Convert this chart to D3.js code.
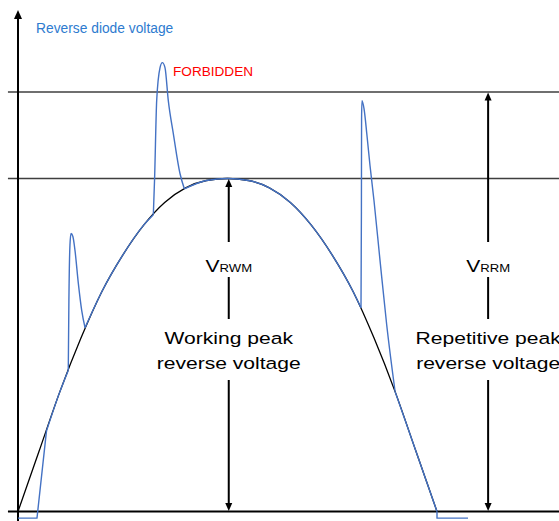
<!DOCTYPE html>
<html>
<head>
<meta charset="utf-8">
<script src="https://cdn.jsdelivr.net/npm/d3@7"></script>
<style>
  html, body { margin: 0; padding: 0; background: #fff; }
  svg { display: block; }
  text { font-family: "Liberation Sans", Arial, sans-serif; }
</style>
</head>
<body>
<svg id="chart" width="559" height="521"></svg>
<script>
// ---- data (time in ms, voltage in % of V_RWM) ----
const blackT = [0, 0.5, 1.0, 1.5, 2.0, 2.5, 3.0, 3.5, 4.0, 4.5, 5.0, 5.5, 6.0, 6.5, 7.0, 7.5, 8.0, 8.5, 9.0, 9.5, 10];
const blackV = [0, 18, 36, 52, 66, 77, 86, 92.8, 97.2, 99.4, 100, 99.4, 97.2, 92.8, 86, 77, 66, 52, 36, 18, 0];

// blue waveform, split into pieces (0 = clamped start, 1..7 = sections, 8 = clamped end)
const bluePiece = [0, 0, 0,
                   1, 1, 1,
                   2, 2, 2, 2, 2, 2, 2, 2, 2,
                   3, 3, 3, 3, 3,
                   4, 4, 4, 4, 4, 4, 4, 4, 4, 4,
                   5, 5, 5, 5, 5, 5, 5, 5, 5, 5,
                   6, 6, 6, 6, 6, 6, 6, 6, 6, 6, 6,
                   7, 7, 7,
                   8, 8, 8];
const blueT = [0, 0.453, 0.68,
               0.68, 1.0, 1.2,
               1.2, 1.215, 1.24, 1.265, 1.31, 1.36, 1.44, 1.52, 1.6,
               1.6, 2.0, 2.5, 3.0, 3.23,
               3.23, 3.26, 3.31, 3.39, 3.445, 3.508, 3.587, 3.707, 3.866, 3.97,
               3.97, 4.5, 5.0, 5.5, 6.0, 6.5, 7.0, 7.5, 8.0, 8.186,
               8.186, 8.196, 8.2, 8.21, 8.258, 8.329, 8.401, 8.496, 8.64, 8.8, 9.0,
               9.0, 9.5, 10,
               10, 10, 10.74];
const blueV = [-2, -2, 24.2,
               24.2, 36, 42.4,
               42.4, 63.5, 80, 83.5, 82.6, 78.4, 68.5, 60.4, 55.2,
               55.2, 66, 77, 86, 89.1,
               89.1, 100, 123.4, 133.3, 134.8, 133.3, 123.4, 113.5, 101.5, 96.9,
               96.9, 99.4, 100, 99.4, 97.2, 92.8, 86, 77, 66, 61.2,
               61.2, 90, 118, 123.4, 121, 112.9, 103.9, 93.4, 75.4, 56, 36,
               36, 18, 0,
               0, -2, -2];

const levelValues = [100, 126];
const levelMain = ["V", "V"];
const levelSub = ["RWM", "RRM"];
const levelLine1 = ["Working peak", "Repetitive peak"];
const levelLine2 = ["reverse voltage", "reverse voltage"];
const levelT = [5.03, 11.22];

const yAxisLabel = "Reverse diode voltage";
const forbiddenLabel = "FORBIDDEN";

// ---- scales ----
const svg = d3.select("#chart");
const x = d3.scaleLinear().domain([0, 10]).range([18, 437]);
const y = d3.scaleLinear().domain([0, 100]).range([511.5, 178.5]);

const xMin = -0.24, xMax = 13.1;
const yTop = 150.6, yBottom = -2.9;

// horizontal limit lines
svg.selectAll("line.level").data(levelValues).join("line")
  .attr("class", "level")
  .attr("x1", x(xMin)).attr("x2", x(xMax))
  .attr("y1", d => y(d)).attr("y2", d => y(d))
  .attr("stroke", "#3f3f3f").attr("stroke-width", 1.5);

// axes
svg.append("line")
  .attr("x1", x(xMin)).attr("x2", x(xMax))
  .attr("y1", y(0)).attr("y2", y(0))
  .attr("stroke", "#000").attr("stroke-width", 2);
svg.append("line")
  .attr("x1", x(0)).attr("x2", x(0))
  .attr("y1", y(yBottom)).attr("y2", y(yTop) + 6)
  .attr("stroke", "#000").attr("stroke-width", 2);
function arrowHead(px, py, dir, w, h) {
  // dir = -1 points up, +1 points down
  return `M${px},${py} L${px - w / 2},${py - dir * h} L${px + w / 2},${py - dir * h} Z`;
}
svg.append("path").attr("d", arrowHead(x(0), y(yTop), -1, 8, 9)).attr("fill", "#000");

// curves
const smooth = d3.line().x(d => x(d.t)).y(d => y(d.v)).curve(d3.curveMonotoneX);
const straight = d3.line().x(d => x(d.t)).y(d => y(d.v));

svg.append("path").datum(blackT.map((t, i) => ({ t, v: blackV[i] })))
  .attr("d", smooth).attr("fill", "none")
  .attr("stroke", "#000").attr("stroke-width", 1.3);

const bluePts = blueT.map((t, i) => ({ t, v: blueV[i], p: bluePiece[i] }));
const pieces = d3.groups(bluePts, d => d.p);
const lastPiece = d3.max(bluePiece);
svg.append("g").attr("fill", "none")
  .attr("stroke", "#4472c4").attr("stroke-width", 1.4).attr("stroke-linejoin", "round")
  .selectAll("path").data(pieces).join("path")
  .attr("d", ([p, pts]) => (p === 0 || p === lastPiece) ? straight(pts) : smooth(pts));

// level arrows with labels
levelValues.forEach((val, i) => {
  const px = x(levelT[i]);
  const top = y(val), bot = y(0);
  svg.append("line").attr("x1", px).attr("x2", px)
    .attr("y1", top + 6).attr("y2", bot - 6)
    .attr("stroke", "#000").attr("stroke-width", 2);
  svg.append("path").attr("d", arrowHead(px, top + 0.5, -1, 7, 8)).attr("fill", "#000");
  svg.append("path").attr("d", arrowHead(px, bot - 0.5, 1, 7, 8)).attr("fill", "#000");

  // white gaps (text boxes)
  svg.append("rect").attr("x", px - 6).attr("width", 12)
    .attr("y", 242).attr("height", 35).attr("fill", "#fff");
  svg.append("rect").attr("x", px - 6).attr("width", 12)
    .attr("y", 319).attr("height", 61).attr("fill", "#fff");

  const g1 = svg.append("g").attr("transform", `translate(${px},272) scale(1.24,1)`);
  const t1 = g1.append("text").attr("text-anchor", "middle").attr("fill", "#000");
  t1.append("tspan").attr("font-size", 17).text(levelMain[i]);
  t1.append("tspan").attr("font-size", 10.6).text(levelSub[i]);

  const g2 = svg.append("g").attr("transform", `translate(${px},344) scale(1.24,1)`);
  g2.append("text").attr("text-anchor", "middle").attr("font-size", 17).attr("fill", "#000")
    .text(levelLine1[i]);
  const g3 = svg.append("g").attr("transform", `translate(${px},369) scale(1.24,1)`);
  g3.append("text").attr("text-anchor", "middle").attr("font-size", 17).attr("fill", "#000")
    .text(levelLine2[i]);
});

svg.append("text").attr("x", 36).attr("y", 33)
  .attr("font-size", 13.8).attr("fill", "#2e7bcf").text(yAxisLabel);
svg.append("text").attr("x", 173).attr("y", 76)
  .attr("font-size", 13.6).attr("fill", "#ff0000").text(forbiddenLabel);
</script>
</body>
</html>
